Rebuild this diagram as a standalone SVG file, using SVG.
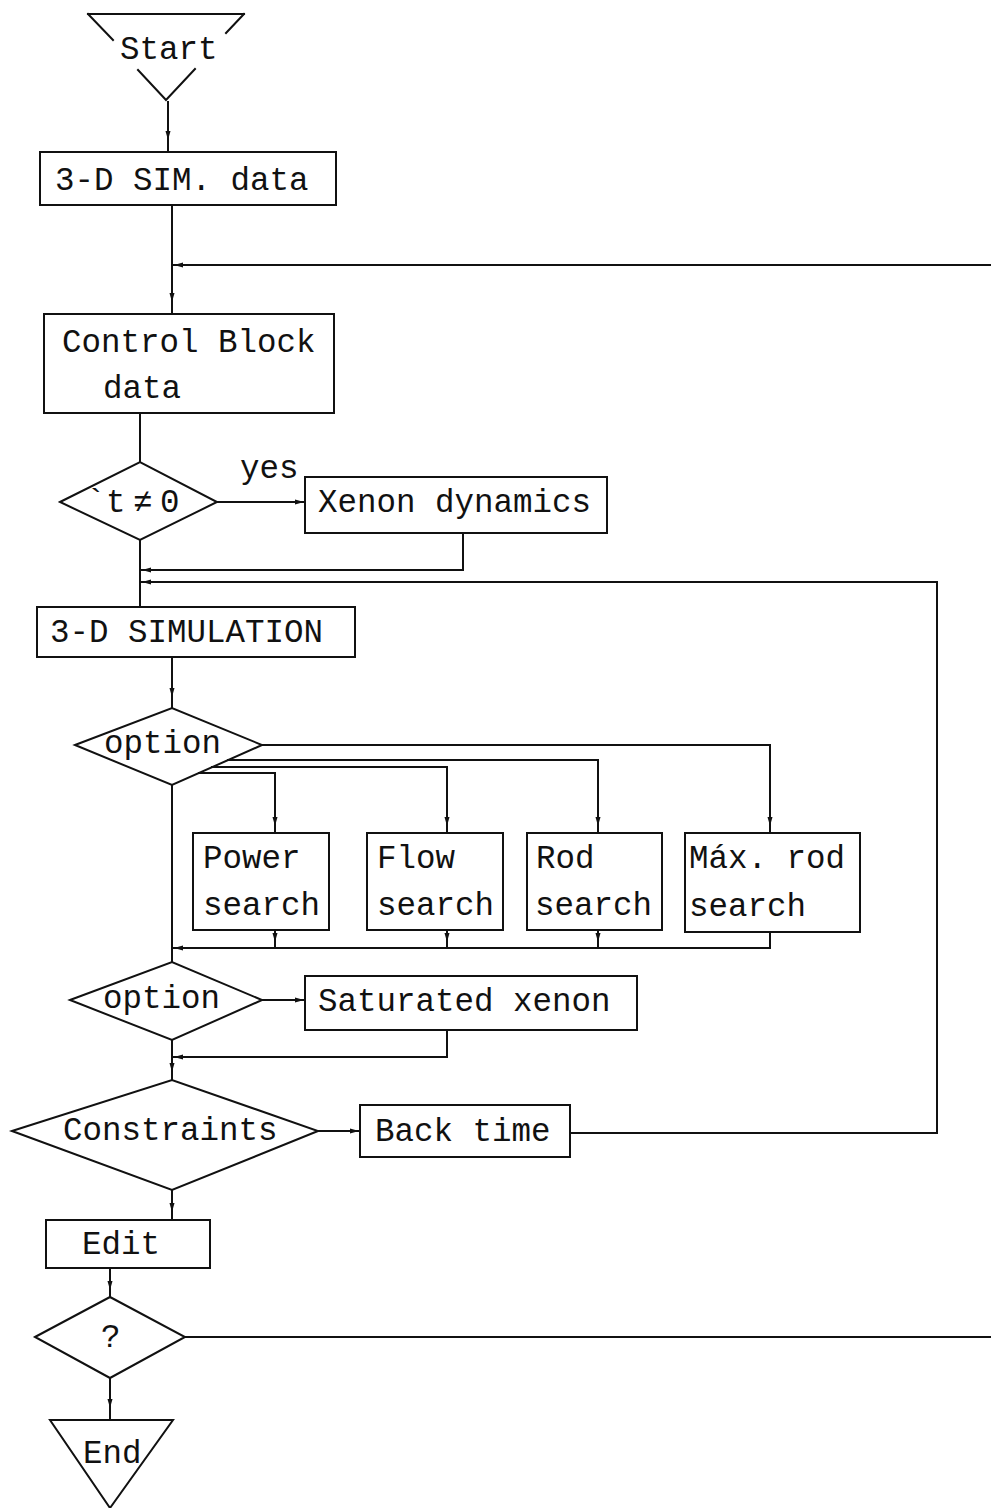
<svg xmlns="http://www.w3.org/2000/svg" width="991" height="1508" viewBox="0 0 991 1508">
<style>
.s{fill:none;stroke:#111;stroke-width:2;stroke-linecap:square}
.b{fill:none;stroke:#111;stroke-width:2}
.t{font-family:"Liberation Mono","DejaVu Sans Mono",monospace;font-size:32.5px;fill:#111}
.ah{fill:#111}
</style>
<defs>
<path id="ad" d="M-2.5,-9 L0,0 L2.5,-9 Z"/>
</defs>
<rect width="991" height="1508" fill="#fff"/>
<g id="connectors">
<path class="s" d="M168,102 V152"/>
<path class="s" d="M172,205 V314"/>
<path class="s" d="M172,265 H991"/>
<path class="s" d="M140,413 V462"/>
<path class="s" d="M217,502 H305"/>
<path class="s" d="M463,533 V570 H140"/>
<path class="s" d="M140,540 V607"/>
<path class="s" d="M140,582 H937 V1133 H570"/>
<path class="s" d="M172,657 V708"/>
<path class="s" d="M262,745 H770 V833"/>
<path class="s" d="M228,760 H598 V833"/>
<path class="s" d="M212,767 H447 V833"/>
<path class="s" d="M199,773 H275 V833"/>
<path class="s" d="M275,930 V948"/>
<path class="s" d="M447,930 V948"/>
<path class="s" d="M598,930 V948"/>
<path class="s" d="M770,932 V948 H172"/>
<path class="s" d="M172,785 V962"/>
<path class="s" d="M262,1000 H305"/>
<path class="s" d="M447,1030 V1057 H172"/>
<path class="s" d="M172,1040 V1080"/>
<path class="s" d="M318,1131 H360"/>
<path class="s" d="M172,1190 V1220"/>
<path class="s" d="M110,1268 V1297"/>
<path class="s" d="M185,1337 H991"/>
<path class="s" d="M110,1378 V1420"/>
<g class="ah">
<use href="#ad" transform="translate(168,140)"/>
<use href="#ad" transform="translate(172,302)"/>
<use href="#ad" transform="translate(174,265) rotate(90)"/>
<use href="#ad" transform="translate(304,502) rotate(-90)"/>
<use href="#ad" transform="translate(142,570) rotate(90)"/>
<use href="#ad" transform="translate(142,582) rotate(90)"/>
<use href="#ad" transform="translate(172,697)"/>
<use href="#ad" transform="translate(275,826)"/>
<use href="#ad" transform="translate(447,826)"/>
<use href="#ad" transform="translate(598,826)"/>
<use href="#ad" transform="translate(770,826)"/>
<use href="#ad" transform="translate(275,942)"/>
<use href="#ad" transform="translate(447,942)"/>
<use href="#ad" transform="translate(598,942)"/>
<use href="#ad" transform="translate(174,948) rotate(90)"/>
<use href="#ad" transform="translate(304,1000) rotate(-90)"/>
<use href="#ad" transform="translate(174,1057) rotate(90)"/>
<use href="#ad" transform="translate(172,1072)"/>
<use href="#ad" transform="translate(359,1131) rotate(-90)"/>
<use href="#ad" transform="translate(172,1212)"/>
<use href="#ad" transform="translate(110,1290)"/>
<use href="#ad" transform="translate(110,1408)"/>
</g>
</g>
<g id="start">
<path class="s" d="M88,14 H244 M88,14 L113,40 M138,70 L166,100 L195,69 M226,33 L244,14"/>
<text class="t" x="120" y="59">Start</text>
</g>
<g id="simdata">
<rect class="b" x="40" y="152" width="296" height="53"/>
<text class="t" x="55" y="190">3-D SIM. data</text>
</g>
<g id="controlblock">
<rect class="b" x="44" y="314" width="290" height="99"/>
<text class="t" x="62" y="352">Control Block</text>
<text class="t" x="103" y="398">data</text>
</g>
<g id="dt">
<polygon class="b" points="60,502 140,462 217,502 140,540"/>
<text class="t" font-size="28"><tspan x="86" y="512">`</tspan><tspan x="106" y="512">t</tspan><tspan x="133" y="512">≠</tspan><tspan x="160" y="512">0</tspan></text>
<text class="t" x="240" y="478">yes</text>
</g>
<g id="xenondyn">
<rect class="b" x="305" y="477" width="302" height="56"/>
<text class="t" x="318" y="512">Xenon dynamics</text>
</g>
<g id="simulation">
<rect class="b" x="37" y="607" width="318" height="50"/>
<text class="t" x="50" y="642">3-D SIMULATION</text>
</g>
<g id="option1">
<polygon class="b" points="75,745 172,708 262,745 172,785"/>
<text class="t" x="104" y="753">option</text>
</g>
<g id="power">
<rect class="b" x="193" y="833" width="136" height="97"/>
<text class="t" x="203" y="868">Power</text>
<text class="t" x="203" y="915">search</text>
</g>
<g id="flow">
<rect class="b" x="367" y="833" width="136" height="97"/>
<text class="t" x="377" y="868">Flow</text>
<text class="t" x="377" y="915">search</text>
</g>
<g id="rod">
<rect class="b" x="527" y="833" width="135" height="97"/>
<text class="t" x="536" y="868">Rod</text>
<text class="t" x="535" y="915">search</text>
</g>
<g id="maxrod">
<rect class="b" x="685" y="833" width="175" height="99"/>
<text class="t" x="689" y="868">Máx. rod</text>
<text class="t" x="689" y="916">search</text>
</g>
<g id="option2">
<polygon class="b" points="70,1000 172,962 262,1000 172,1040"/>
<text class="t" x="103" y="1008">option</text>
</g>
<g id="satxenon">
<rect class="b" x="305" y="976" width="332" height="54"/>
<text class="t" x="318" y="1011">Saturated xenon</text>
</g>
<g id="constraints">
<polygon class="b" points="12,1131 172,1080 318,1131 172,1190"/>
<text class="t" x="63" y="1140">Constraints</text>
</g>
<g id="backtime">
<rect class="b" x="360" y="1105" width="210" height="52"/>
<text class="t" x="375" y="1141">Back time</text>
</g>
<g id="edit">
<rect class="b" x="46" y="1220" width="164" height="48"/>
<text class="t" x="82" y="1254">Edit</text>
</g>
<g id="question">
<polygon class="b" points="35,1337 110,1297 185,1337 110,1378"/>
<text class="t" x="101" y="1347">?</text>
</g>
<g id="end">
<polygon class="b" points="50,1420 173,1420 110,1508"/>
<text class="t" x="83" y="1463">End</text>
</g>
</svg>
